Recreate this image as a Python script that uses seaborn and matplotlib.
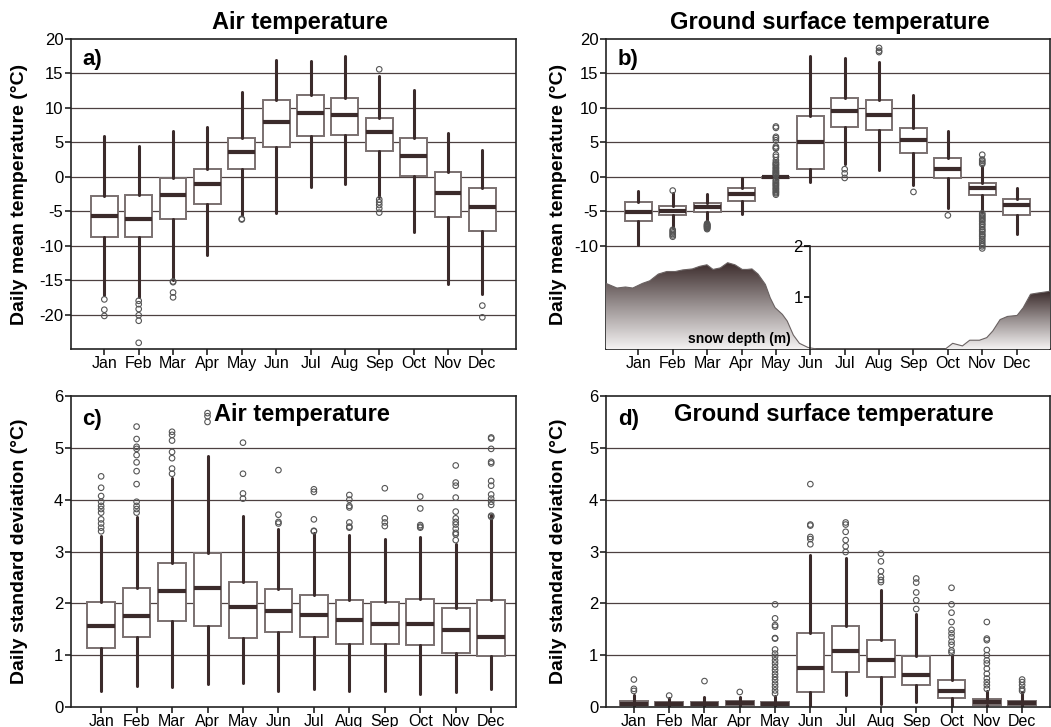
import numpy as np
import pandas as pd
import matplotlib
matplotlib.use("Agg")
import matplotlib.pyplot as plt
import seaborn as sns
from matplotlib.colors import LinearSegmentedColormap

months = ["Jan", "Feb", "Mar", "Apr", "May", "Jun", "Jul", "Aug", "Sep", "Oct", "Nov", "Dec"]

# ---------- a) Air temperature, daily mean ----------
a_whi = [5.9, 4.4, 6.6, 7.25, 12.3, 16.95, 16.8, 17.5, 14.7, 12.6, 6.4, 3.85]
a_q3 = [-2.84, -2.7, -0.17, 1.2, 5.7, 11.1, 11.85, 11.47, 8.46, 5.7, 0.65, -1.6]
a_med = [-5.75, -6.2, -2.7, -1.1, 3.56, 8.0, 9.33, 8.9, 6.57, 2.98, -2.3, -4.4]
a_q1 = [-8.7, -8.7, -6.1, -4.0, 1.1, 4.3, 5.94, 6.13, 3.7, 0.07, -5.9, -7.9]
a_wlo = [-17.2, -17.5, -15.0, -11.4, -5.6, -5.3, -1.5, -1.04, -2.9, -8.0, -15.5, -17.0]
a_out = [[-17.8, -19.3, -20.2],
         [-18.0, -18.5, -19.2, -20.1, -20.9, -24.1],
         [-15.2, -15.3, -16.8, -17.5],
         [],
         [-6.1, -6.2],
         [], [], [],
         [15.6, -3.3, -3.7, -4.1, -4.6, -5.2],
         [], [],
         [-18.7, -20.4]]

# ---------- b) Ground surface temperature, daily mean ----------
b_whi = [-2.06, -2.4, -2.5, -0.13, 0.1, 17.5, 17.3, 16.7, 11.9, 6.65, 1.5, -1.67]
b_q3 = [-3.7, -4.2, -3.85, -1.58, 0.0, 8.8, 11.5, 11.2, 7.13, 2.78, -0.95, -3.2]
b_med = [-5.1, -5.0, -4.43, -2.54, -0.08, 5.0, 9.5, 8.92, 5.34, 1.13, -1.58, -4.14]
b_q1 = [-6.4, -5.55, -5.06, -3.5, -0.2, 1.18, 7.28, 6.8, 3.4, -0.22, -2.64, -5.54]
b_wlo = [-9.9, -7.4, -6.5, -5.45, -0.3, -0.7, 1.8, 1.0, -1.2, -4.6, -5.06, -8.35]
b_out = [[],
         [-2.0, -7.7, -7.9, -8.1, -8.3, -8.5, -8.7],
         [-6.8, -6.9, -7.0, -7.05, -7.1, -7.2, -7.25, -7.3, -7.4, -7.5, -7.6],
         [],
         [7.3, 7.1, 5.8, 5.6, 5.3, 4.4, 4.2, 4.1, 3.2, 2.9, 2.4, 2.1, 1.95, 1.8, 1.7,
          1.5, 1.3, 1.2, 1.0, 0.85, 0.74, 0.6, 0.5, 0.38, 0.26, -0.45, -0.6, -0.8,
          -0.95, -1.1, -1.25, -1.4, -1.6, -1.75, -1.9, -2.1, -2.25, -2.4, -2.6],
         [],
         [1.1, 0.5, -0.17],
         [18.7, 18.3, 18.1],
         [-2.2],
         [-5.6],
         [3.2, 2.5, 2.3, 2.05, 1.85, -5.3, -5.5, -5.7, -5.9, -6.1, -6.3, -6.5, -6.8,
          -7.0, -7.3, -7.6, -7.8, -8.0, -8.3, -8.5, -8.7, -9.0, -9.3, -9.6, -9.9,
          -10.1, -10.4],
         []]

# snow depth (m) by day of year
snow_day = [0, 9, 16, 22, 30, 36, 43, 50, 57, 63, 71, 77, 83, 88, 94, 100, 106, 112,
            116, 120, 125, 131, 135, 139, 145, 149, 154, 159, 166, 173,
            279, 285, 293, 299, 307, 313, 318, 324, 330, 338, 343, 349, 354, 363, 365]
snow_depth = [1.27, 1.18, 1.2, 1.18, 1.27, 1.32, 1.45, 1.5, 1.5, 1.53, 1.55, 1.6, 1.63,
              1.54, 1.57, 1.67, 1.63, 1.54, 1.54, 1.55, 1.45, 1.25, 0.99, 0.8, 0.67,
              0.54, 0.27, 0.11, 0.03, 0.0,
              0.0, 0.11, 0.06, 0.17, 0.17, 0.22, 0.35, 0.57, 0.63, 0.65, 0.8, 1.06,
              1.08, 1.11, 1.12]

# ---------- c) Air temperature, daily standard deviation ----------
c_whi = [3.3, 3.67, 4.41, 4.84, 3.68, 3.43, 3.35, 3.32, 3.25, 3.28, 3.15, 3.7]
c_q3 = [2.02, 2.29, 2.77, 2.97, 2.41, 2.27, 2.17, 2.07, 2.03, 2.09, 1.91, 2.06]
c_med = [1.57, 1.75, 2.23, 2.29, 1.92, 1.85, 1.78, 1.67, 1.6, 1.6, 1.49, 1.36]
c_q1 = [1.13, 1.35, 1.66, 1.56, 1.34, 1.45, 1.36, 1.21, 1.21, 1.19, 1.05, 0.99]
c_wlo = [0.3, 0.4, 0.39, 0.45, 0.46, 0.3, 0.35, 0.3, 0.3, 0.26, 0.29, 0.35]
c_out = [[4.45, 4.23, 4.07, 3.96, 3.88, 3.82, 3.75, 3.62, 3.54, 3.46, 3.39],
         [5.41, 5.17, 5.02, 4.98, 4.86, 4.72, 4.55, 4.3, 3.96, 3.88, 3.82, 3.75],
         [5.31, 5.25, 5.14, 4.92, 4.8, 4.6, 4.5],
         [5.67, 5.61, 5.5],
         [5.1, 4.5, 4.12, 4.02],
         [4.57, 3.71, 3.57, 3.54],
         [4.2, 4.15, 3.62, 3.4, 3.39],
         [4.09, 4.0, 3.88, 3.85, 3.56, 3.48, 3.46],
         [4.22, 3.64, 3.56, 3.49],
         [4.06, 3.83, 3.51, 3.48, 3.46],
         [4.66, 4.33, 4.27, 4.04, 3.77, 3.64, 3.57, 3.52, 3.44, 3.36, 3.33, 3.22],
         [5.2, 5.18, 4.98, 4.73, 4.7, 4.36, 4.27, 4.1, 4.02, 3.96, 3.9, 3.69, 3.67]]

# ---------- d) Ground surface temperature, daily standard deviation ----------
d_whi = [0.24, 0.17, 0.2, 0.2, 0.22, 2.94, 2.88, 2.25, 1.8, 1.0, 0.31, 0.29]
d_q3 = [0.11, 0.1, 0.1, 0.11, 0.09, 1.42, 1.56, 1.29, 0.98, 0.53, 0.16, 0.12]
d_med = [0.06, 0.06, 0.06, 0.07, 0.05, 0.76, 1.08, 0.9, 0.61, 0.3, 0.1, 0.07]
d_q1 = [0.03, 0.03, 0.03, 0.03, 0.03, 0.29, 0.68, 0.57, 0.42, 0.17, 0.03, 0.03]
d_wlo = [0.0, 0.0, 0.0, 0.0, 0.0, 0.0, 0.24, 0.06, 0.1, 0.0, 0.0, 0.0]
d_out = [[0.53, 0.35, 0.31],
         [0.22],
         [0.5],
         [0.29],
         [1.98, 1.71, 1.58, 1.55, 1.33, 1.32, 1.11, 1.03, 0.97, 0.9, 0.84, 0.77, 0.71,
          0.64, 0.58, 0.52, 0.45, 0.39, 0.32, 0.26],
         [4.3, 3.52, 3.5, 3.28, 3.24, 3.14],
         [3.56, 3.52, 3.38, 3.22, 3.1, 2.99],
         [2.96, 2.81, 2.62, 2.51, 2.45, 2.41],
         [2.48, 2.4, 2.21, 2.06, 1.89],
         [2.3, 1.98, 1.82, 1.64, 1.49, 1.42, 1.35, 1.26, 1.2, 1.09, 1.05],
         [1.64, 1.32, 1.29, 1.1, 1.0, 0.9, 0.84, 0.74, 0.64, 0.55, 0.48, 0.42, 0.35],
         [0.53, 0.48, 0.42, 0.35, 0.31]]

# ---------- style ----------
sns.set_theme(style="ticks")
plt.rcParams["font.family"] = ["Liberation Sans", "DejaVu Sans"]
plt.rcParams["text.color"] = "black"
plt.rcParams["axes.labelcolor"] = "black"
plt.rcParams["xtick.color"] = "black"
plt.rcParams["ytick.color"] = "black"

DARK = "#3b2b2b"
BOXEDGE = "#7a7070"
GRID = "#4d4040"

fig = plt.figure(figsize=(10.51, 7.27), dpi=100)
W, H = 1051.0, 727.0


def add_ax(l, t, r, b):
    return fig.add_axes([l / W, 1 - b / H, (r - l) / W, (b - t) / H])


ax_a = add_ax(71, 39, 516, 349)
ax_b = add_ax(606, 39, 1050, 349)
ax_c = add_ax(71, 396, 516, 707)
ax_d = add_ax(606, 396, 1050, 707)


def draw_panel(ax, q1, med, q3, wlo, whi, out, xlim, ylim, yticks):
    ax.set_axisbelow(True)
    for yv in yticks:
        if ylim[0] < yv < ylim[1]:
            ax.axhline(yv, color=GRID, lw=0.9, zorder=0.5)
    stats = [dict(med=med[i], q1=q1[i], q3=q3[i], whislo=wlo[i], whishi=whi[i], fliers=[])
             for i in range(len(months))]
    ax.bxp(stats, positions=list(range(len(months))), widths=0.78, showfliers=False,
           showcaps=False, patch_artist=True, manage_ticks=False,
           boxprops=dict(facecolor="white", edgecolor=BOXEDGE, linewidth=1.4),
           whiskerprops=dict(color=DARK, linewidth=2.2),
           medianprops=dict(color=DARK, linewidth=3.0, solid_capstyle="butt"))
    rows = [(i, v) for i, vals in enumerate(out) for v in vals]
    df = pd.DataFrame(rows, columns=["pos", "value"])
    sns.scatterplot(data=df, x="pos", y="value", ax=ax, marker="o", s=16,
                    facecolors="none", edgecolor="#555555", linewidth=0.8, zorder=3)
    ax.set_xticks(range(len(months)))
    ax.set_xticklabels(months)
    ax.set_yticks(yticks)
    ax.set_yticklabels([f"{int(t)}" for t in yticks])
    ax.set_xlim(*xlim)
    ax.set_ylim(*ylim)
    ax.set_xlabel("")
    ax.set_ylabel("")
    for sp in ax.spines.values():
        sp.set_visible(True)
        sp.set_color("#222222")
        sp.set_linewidth(1.2)
    ax.tick_params(axis="x", direction="out", length=4, width=1.2, color="#222222",
                   labelsize=11.5, pad=1, top=False, labelcolor="black")
    ax.tick_params(axis="y", direction="out", length=4, width=1.2, color="#222222",
                   labelsize=12, pad=1.5, right=False, labelcolor="black")


draw_panel(ax_a, a_q1, a_med, a_q3, a_wlo, a_whi, a_out, (-0.97, 11.98), (-25, 20),
           [-20, -15, -10, -5, 0, 5, 10, 15, 20])
draw_panel(ax_b, b_q1, b_med, b_q3, b_wlo, b_whi, b_out, (-0.94, 11.97), (-25, 20),
           [-10, -5, 0, 5, 10, 15, 20])
draw_panel(ax_c, c_q1, c_med, c_q3, c_wlo, c_whi, c_out, (-0.85, 11.7), (0, 6),
           [0, 1, 2, 3, 4, 5, 6])
draw_panel(ax_d, d_q1, d_med, d_q3, d_wlo, d_whi, d_out, (-0.79, 11.79), (0, 6),
           [0, 1, 2, 3, 4, 5, 6])

# ---------- snow depth inset in b ----------
ax_s = ax_b.inset_axes([0, 0, 1, 1 / 3])
ax_s.set_facecolor("none")
ax_s.patch.set_alpha(0)
cmap = LinearSegmentedColormap.from_list("snow", ["#f4f2f2", "#9a9292", DARK])
sd = np.array(snow_day, dtype=float)
sv = np.array(snow_depth, dtype=float)
# split into contiguous snow-covered segments
zero_gap = np.where((sv[:-1] == 0) & (sv[1:] == 0))[0]
bounds = [0] + [g + 1 for g in zero_gap] + [len(sv)]
for s0, s1 in zip(bounds[:-1], bounds[1:]):
    xs, ys = sd[s0:s1], sv[s0:s1]
    if len(xs) < 2 or ys.max() <= 0:
        continue
    poly = ax_s.fill_between(xs, 0, ys, facecolor="none", edgecolor="none")
    grad = np.linspace(0, 1, 256).reshape(-1, 1)
    im = ax_s.imshow(grad, origin="lower", aspect="auto", cmap=cmap,
                     extent=[xs.min(), xs.max(), 0, ys.max()], zorder=1)
    im.set_clip_path(poly.get_paths()[0], transform=ax_s.transData)
sns.lineplot(x=sd, y=sv, ax=ax_s, color="#6a6262", linewidth=0.8, zorder=2)
ax_s.set_xlim(0, 365)
ax_s.set_ylim(0, 2)
for k in ["top", "right", "bottom"]:
    ax_s.spines[k].set_visible(False)
jun_frac = (5 - (-0.94)) / (11.97 - (-0.94))
ax_s.spines["left"].set_position(("axes", jun_frac))
ax_s.spines["left"].set_color("#222222")
ax_s.spines["left"].set_linewidth(1.2)
ax_s.set_xticks([])
ax_s.set_yticks([1, 2])
ax_s.set_yticklabels(["1", "2"])
ax_s.tick_params(axis="y", direction="out", length=4, width=1.2, labelsize=12, pad=1.5,
                 labelcolor="black")
ax_s.set_xlabel("")
ax_s.set_ylabel("")
ax_s.text(110, 0.19, "snow depth (m)", ha="center", va="center", fontsize=10,
          fontweight="bold", color="black")

# ---------- texts ----------
fig.text(300 / W, 1 - 23 / H, "Air temperature", ha="center", va="center",
         fontsize=17, fontweight="bold", color="black")
fig.text(830 / W, 1 - 23 / H, "Ground surface temperature", ha="center", va="center",
         fontsize=17, fontweight="bold", color="black")
ax_c.text(0.519, 0.939, "Air temperature", transform=ax_c.transAxes, ha="center",
          va="center", fontsize=17, fontweight="bold", zorder=5, color="black")
ax_d.text(0.514, 0.939, "Ground surface temperature", transform=ax_d.transAxes,
          ha="center", va="center", fontsize=17, fontweight="bold", zorder=5,
          color="black")

for ax, lab, yy in [(ax_a, "a)", 0.935), (ax_b, "b)", 0.935), (ax_c, "c)", 0.926),
                    (ax_d, "d)", 0.926)]:
    x0 = 0.025 if ax in (ax_a, ax_c) else 0.027
    ax.text(x0, yy, lab, transform=ax.transAxes, ha="left", va="center",
            fontsize=16, fontweight="bold", zorder=5, color="black")

for ax, lab, xx in [(ax_a, "Daily mean temperature (°C)", -0.097),
                    (ax_b, "Daily mean temperature (°C)", -0.088),
                    (ax_c, "Daily standard deviation (°C)", -0.097),
                    (ax_d, "Daily standard deviation (°C)", -0.088)]:
    ax.set_ylabel(lab, fontsize=14, fontweight="bold", color="black")
    ax.yaxis.set_label_coords(xx, 0.5)

fig.savefig("out.png", dpi=100)
